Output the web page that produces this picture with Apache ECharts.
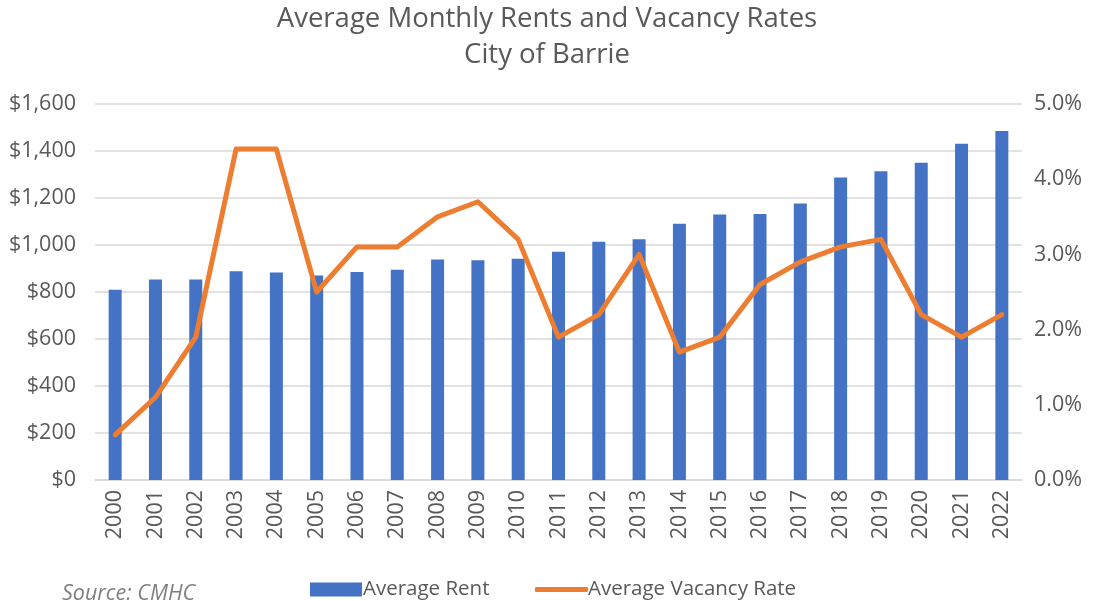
<!DOCTYPE html>
<html>
<head>
<meta charset="utf-8">
<script src="https://cdn.jsdelivr.net/npm/echarts@6/dist/echarts.min.js"></script>
<style>
html,body{margin:0;padding:0;background:#fff;}
#chart{width:1094px;height:601px;}
</style>
</head>
<body>
<div id="chart"></div>
<script>
const years = ['2000','2001','2002','2003','2004','2005','2006','2007','2008','2009','2010','2011','2012','2013','2014','2015','2016','2017','2018','2019','2020','2021','2022'];
const averageRent = [810,853,853,888,883,870,885,895,938,935,942,971,1014,1024,1090,1130,1132,1177,1287,1314,1350,1431,1485];
const vacancyRate = [0.6,1.1,1.9,4.4,4.4,2.5,3.1,3.1,3.5,3.7,3.2,1.9,2.2,3.0,1.7,1.9,2.6,2.9,3.1,3.2,2.2,1.9,2.2];
const rentTicks = [0,200,400,600,800,1000,1200,1400,1600];
const vacancyTicks = [0,1,2,3,4,5];

const FONT = 'Open Sans';
const TXT = '#595959';
const chart = echarts.init(document.getElementById('chart'), null, {renderer:'canvas'});
chart.setOption({
  animation:false,
  textStyle:{fontFamily:FONT,color:TXT},
  title:{
    text:'Average Monthly Rents and Vacancy Rates\nCity of Barrie',
    left:'center', top:-4,
    textStyle:{fontFamily:FONT,fontWeight:'normal',fontSize:27.5,color:TXT,lineHeight:36}
  },
  legend:[{
    left:305, top:574, itemWidth:52, itemHeight:14,
    textStyle:{fontFamily:FONT,fontSize:20.5,color:TXT,padding:[0,0,0,-4]},
    data:[{name:'Average Rent',icon:'rect'}]
  },{
    left:530, top:574, itemWidth:53, itemHeight:5,
    textStyle:{fontFamily:FONT,fontSize:20.5,color:TXT,padding:[0,0,0,-5]},
    data:[{name:'Average Vacancy Rate',icon:'roundRect'}]
  }],
  graphic:[{
    type:'text', left:62, top:583,
    style:{text:'Source: CMHC',fontFamily:FONT,fontStyle:'italic',fontSize:21.5,fill:'#7f7f7f'}
  }],
  grid:{left:95,right:72,top:104,bottom:121},
  xAxis:{
    type:'category', data:years,
    axisLine:{lineStyle:{color:'#d9d9d9',width:1.5}},
    axisTick:{show:false},
    axisLabel:{rotate:90,fontSize:21.5,color:TXT,margin:10,fontFamily:FONT}
  },
  yAxis:[{
    type:'value', min:rentTicks[0], max:rentTicks[rentTicks.length-1], interval:200,
    axisLine:{show:false}, axisTick:{show:false},
    splitLine:{lineStyle:{color:'#d9d9d9',width:1.5}},
    axisLabel:{fontSize:21.5,color:TXT,margin:19,fontFamily:FONT,
      formatter:v=>'$'+v.toLocaleString('en-US')}
  },{
    type:'value', min:vacancyTicks[0], max:vacancyTicks[vacancyTicks.length-1], interval:1,
    axisLine:{show:false}, axisTick:{show:false}, splitLine:{show:false},
    axisLabel:{fontSize:21.5,color:TXT,margin:12,fontFamily:FONT,
      formatter:v=>v.toFixed(1)+'%'}
  }],
  series:[{
    name:'Average Rent', type:'bar', data:averageRent, barWidth:13,
    itemStyle:{color:'#4472c4'}, yAxisIndex:0
  },{
    name:'Average Vacancy Rate', type:'line', data:vacancyRate, yAxisIndex:1,
    symbol:'none', z:5,
    lineStyle:{color:'#ed7d31',width:5,cap:'round',join:'round'},
    itemStyle:{color:'#ed7d31'}
  }]
});
</script>
</body>
</html>
